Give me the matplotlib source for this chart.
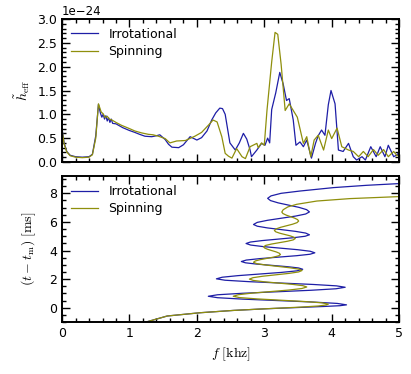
import numpy as np
import matplotlib
matplotlib.use("Agg")
import matplotlib.pyplot as plt
from matplotlib.ticker import AutoMinorLocator, MultipleLocator

plt.rcParams['mathtext.fontset'] = 'cm'
plt.rcParams['font.size'] = 9

# ---- top panel: spectrum (f in kHz, h in units of 1e-24) ----
f_irr = [0.0, 0.03, 0.07, 0.12, 0.20, 0.30, 0.40, 0.45, 0.50, 0.54, 0.57, 0.59, 0.61, 0.63, 0.65, 0.67,
         0.69, 0.71, 0.73, 0.75, 0.80, 0.90, 1.00, 1.08, 1.15, 1.23, 1.33, 1.40, 1.45, 1.53, 1.58, 1.63,
         1.73, 1.80, 1.90, 2.00, 2.07, 2.15, 2.22, 2.28, 2.34, 2.38, 2.42, 2.49, 2.57, 2.63, 2.69, 2.74,
         2.79, 2.81, 2.85, 2.89, 2.96, 3.01, 3.05, 3.08, 3.11, 3.17, 3.23, 3.28, 3.33, 3.37, 3.43, 3.47,
         3.53, 3.58, 3.63, 3.70, 3.76, 3.80, 3.85, 3.90, 3.95, 3.99, 4.05, 4.10, 4.17, 4.25, 4.32, 4.37,
         4.45, 4.50, 4.58, 4.66, 4.72, 4.79, 4.84, 4.92, 4.97, 5.0]
h_irr = [0.70, 0.40, 0.22, 0.14, 0.11, 0.10, 0.11, 0.16, 0.55, 1.21, 1.02, 0.94, 1.00, 0.90, 0.97, 0.86,
         0.93, 0.83, 0.90, 0.81, 0.80, 0.72, 0.66, 0.62, 0.58, 0.54, 0.53, 0.55, 0.57, 0.47, 0.37, 0.31,
         0.30, 0.36, 0.53, 0.46, 0.51, 0.65, 0.88, 1.03, 1.13, 1.12, 1.00, 0.40, 0.25, 0.40, 0.60, 0.48,
         0.25, 0.11, 0.18, 0.25, 0.39, 0.35, 0.50, 0.40, 1.10, 1.45, 1.88, 1.64, 1.29, 1.33, 0.88, 0.35,
         0.42, 0.32, 0.46, 0.08, 0.39, 0.55, 0.67, 0.56, 1.20, 1.50, 1.22, 0.25, 0.22, 0.39, 0.11, 0.04,
         0.11, 0.04, 0.32, 0.11, 0.32, 0.11, 0.35, 0.11, 0.15, 0.20]

f_spin = [0.0, 0.03, 0.07, 0.12, 0.20, 0.30, 0.40, 0.45, 0.50, 0.54, 0.58, 0.61, 0.64, 0.67, 0.70,
          0.74, 0.80, 0.88, 1.00, 1.08, 1.18, 1.28, 1.35, 1.43, 1.53, 1.60, 1.70, 1.83, 1.97, 2.07,
          2.17, 2.24, 2.30, 2.37, 2.42, 2.47, 2.52, 2.59, 2.67, 2.72, 2.79, 2.89, 2.91, 2.96, 3.00,
          3.04, 3.11, 3.16, 3.20, 3.25, 3.31, 3.37, 3.43, 3.49, 3.58, 3.63, 3.69, 3.74, 3.80, 3.88,
          3.95, 4.00, 4.08, 4.15, 4.25, 4.32, 4.40, 4.47, 4.54, 4.62, 4.69, 4.77, 4.84, 4.92, 4.97, 5.0]
h_spin = [0.68, 0.38, 0.21, 0.13, 0.10, 0.09, 0.10, 0.15, 0.50, 1.22, 1.05, 1.01, 0.93, 0.96, 0.90,
          0.88, 0.83, 0.77, 0.70, 0.65, 0.61, 0.58, 0.57, 0.54, 0.49, 0.40, 0.44, 0.45, 0.54, 0.62,
          0.77, 0.88, 0.84, 0.53, 0.18, 0.12, 0.08, 0.28, 0.11, 0.07, 0.32, 0.39, 0.30, 0.40, 0.35,
          1.08, 2.10, 2.72, 2.68, 2.05, 1.08, 1.22, 1.08, 0.94, 0.39, 0.53, 0.11, 0.46, 0.56, 0.25,
          0.67, 0.49, 0.71, 0.32, 0.25, 0.22, 0.11, 0.22, 0.11, 0.26, 0.14, 0.26, 0.11, 0.22, 0.13, 0.15]

# ---- bottom panel: instantaneous frequency vs time ----
fi_irr = [1.21, 1.56, 2.05, 2.54, 3.04, 3.53, 3.90, 4.12, 4.22,
          4.083, 3.707, 3.195, 2.682, 2.307, 2.17,
          2.306, 2.678, 3.185, 3.693, 4.064, 4.20,
          4.072, 3.722, 3.245, 2.767, 2.418, 2.29,
          2.376, 2.61, 2.93, 3.25, 3.484, 3.57,
          3.509, 3.342, 3.115, 2.887, 2.721, 2.66,
          2.733, 2.933, 3.205, 3.478, 3.677, 3.75,
          3.682, 3.495, 3.24, 2.985, 2.798, 2.73,
          2.793, 2.965, 3.20, 3.435, 3.607, 3.67,
          3.614, 3.462, 3.255, 3.047, 2.896, 2.84,
          2.896, 3.048, 3.255, 3.463, 3.614, 3.67,
          3.628, 3.515, 3.36, 3.205, 3.092, 3.05,
          3.10, 3.25, 3.53, 4.03, 4.52, 5.0, 5.3]
ti_irr = [-1.05, -0.58, -0.35, -0.19, -0.07, 0.02, 0.09, 0.14, 0.20,
          0.30, 0.40, 0.50, 0.60, 0.70, 0.80,
          0.905, 1.01, 1.115, 1.22, 1.325, 1.43,
          1.528, 1.627, 1.725, 1.823, 1.922, 2.02,
          2.132, 2.243, 2.355, 2.467, 2.578, 2.69,
          2.78, 2.87, 2.96, 3.05, 3.14, 3.23,
          3.332, 3.433, 3.535, 3.637, 3.738, 3.84,
          3.948, 4.057, 4.165, 4.273, 4.382, 4.49,
          4.592, 4.693, 4.795, 4.897, 4.998, 5.10,
          5.22, 5.34, 5.46, 5.58, 5.70, 5.82,
          5.967, 6.113, 6.26, 6.407, 6.553, 6.70,
          6.858, 7.017, 7.175, 7.333, 7.492, 7.65,
          7.82, 8.00, 8.16, 8.40, 8.56, 8.68, 8.73]

fi_spin = [1.21, 1.56, 2.05, 2.54, 3.04, 3.53, 3.80, 3.92, 3.95,
           3.856, 3.597, 3.245, 2.892, 2.634, 2.54,
           2.613, 2.813, 3.085, 3.358, 3.557, 3.63,
           3.573, 3.417, 3.205, 2.992, 2.837, 2.78,
           2.832, 2.975, 3.17, 3.365, 3.508, 3.56,
           3.512, 3.38, 3.20, 3.02, 2.888, 2.84,
           2.867, 2.94, 3.04, 3.14, 3.213, 3.24,
           3.223, 3.178, 3.115, 3.053, 3.007, 2.99,
           3.021, 3.108, 3.225, 3.343, 3.429, 3.46,
           3.439, 3.383, 3.305, 3.228, 3.171, 3.15,
           3.174, 3.24, 3.33, 3.42, 3.486, 3.51,
           3.493, 3.448, 3.385, 3.323, 3.277, 3.26,
           3.28, 3.35, 3.48, 3.78, 4.27, 5.0, 5.3]
ti_spin = [-1.05, -0.58, -0.35, -0.19, -0.07, 0.04, 0.12, 0.19, 0.25,
           0.342, 0.433, 0.525, 0.617, 0.708, 0.80,
           0.908, 1.017, 1.125, 1.233, 1.342, 1.45,
           1.542, 1.633, 1.725, 1.817, 1.908, 2.00,
           2.10, 2.20, 2.30, 2.40, 2.50, 2.60,
           2.697, 2.793, 2.89, 2.987, 3.083, 3.18,
           3.27, 3.36, 3.45, 3.54, 3.63, 3.72,
           3.81, 3.90, 3.99, 4.08, 4.17, 4.26,
           4.357, 4.453, 4.55, 4.647, 4.743, 4.84,
           4.933, 5.027, 5.12, 5.213, 5.307, 5.40,
           5.51, 5.62, 5.73, 5.84, 5.95, 6.06,
           6.165, 6.27, 6.375, 6.48, 6.585, 6.69,
           6.85, 7.05, 7.23, 7.46, 7.63, 7.77, 7.80]

labels = ["Irrotational", "Spinning"]
c_irr = "#1e1ea6"
c_spin = "#8f8f0c"

fig = plt.figure(figsize=(4.11, 3.74), dpi=100)
ax1 = fig.add_axes([0.151, 0.567, 0.820, 0.382])
ax2 = fig.add_axes([0.151, 0.139, 0.820, 0.390])

scale = 1e-24
ax1.plot(f_irr, np.array(h_irr) * scale, color=c_irr, lw=0.9, label=labels[0])
ax1.plot(f_spin, np.array(h_spin) * scale, color=c_spin, lw=0.9, label=labels[1])
ax1.set_xlim(0, 5)
ax1.set_ylim(0, 3.0e-24)
ax1.yaxis.set_major_locator(MultipleLocator(0.5e-24))
ax1.set_ylabel(r"$\tilde{h}_{\rm eff}$", fontsize=10)
ax1.tick_params(labelbottom=False)
ax1.yaxis.get_offset_text().set_fontsize(8.5)

ax2.plot(fi_irr, ti_irr, color=c_irr, lw=0.9, label=labels[0])
ax2.plot(fi_spin, ti_spin, color=c_spin, lw=0.9, label=labels[1])
ax2.set_xlim(0, 5)
ax2.set_ylim(-1.0, 9.2)
ax2.yaxis.set_major_locator(MultipleLocator(2))
ax2.set_ylabel(r"$(t - t_{\rm m})\ [\rm ms]$", fontsize=10, labelpad=8)
ax2.set_xlabel(r"$f\ [\rm khz]$", fontsize=10)

for ax in (ax1, ax2):
    ax.xaxis.set_major_locator(MultipleLocator(1))
    ax.xaxis.set_minor_locator(AutoMinorLocator())
    ax.yaxis.set_minor_locator(AutoMinorLocator())
    ax.tick_params(which='both', direction='in', top=True, right=True, width=1.0)
    ax.tick_params(which='major', length=6)
    ax.tick_params(which='minor', length=3)
    for s in ax.spines.values():
        s.set_linewidth(1.4)
    ax.legend(loc='upper left', frameon=False, handlelength=2.2, fontsize=9,
              borderaxespad=0.3, labelspacing=0.35)

fig.savefig("out.png", dpi=100)
